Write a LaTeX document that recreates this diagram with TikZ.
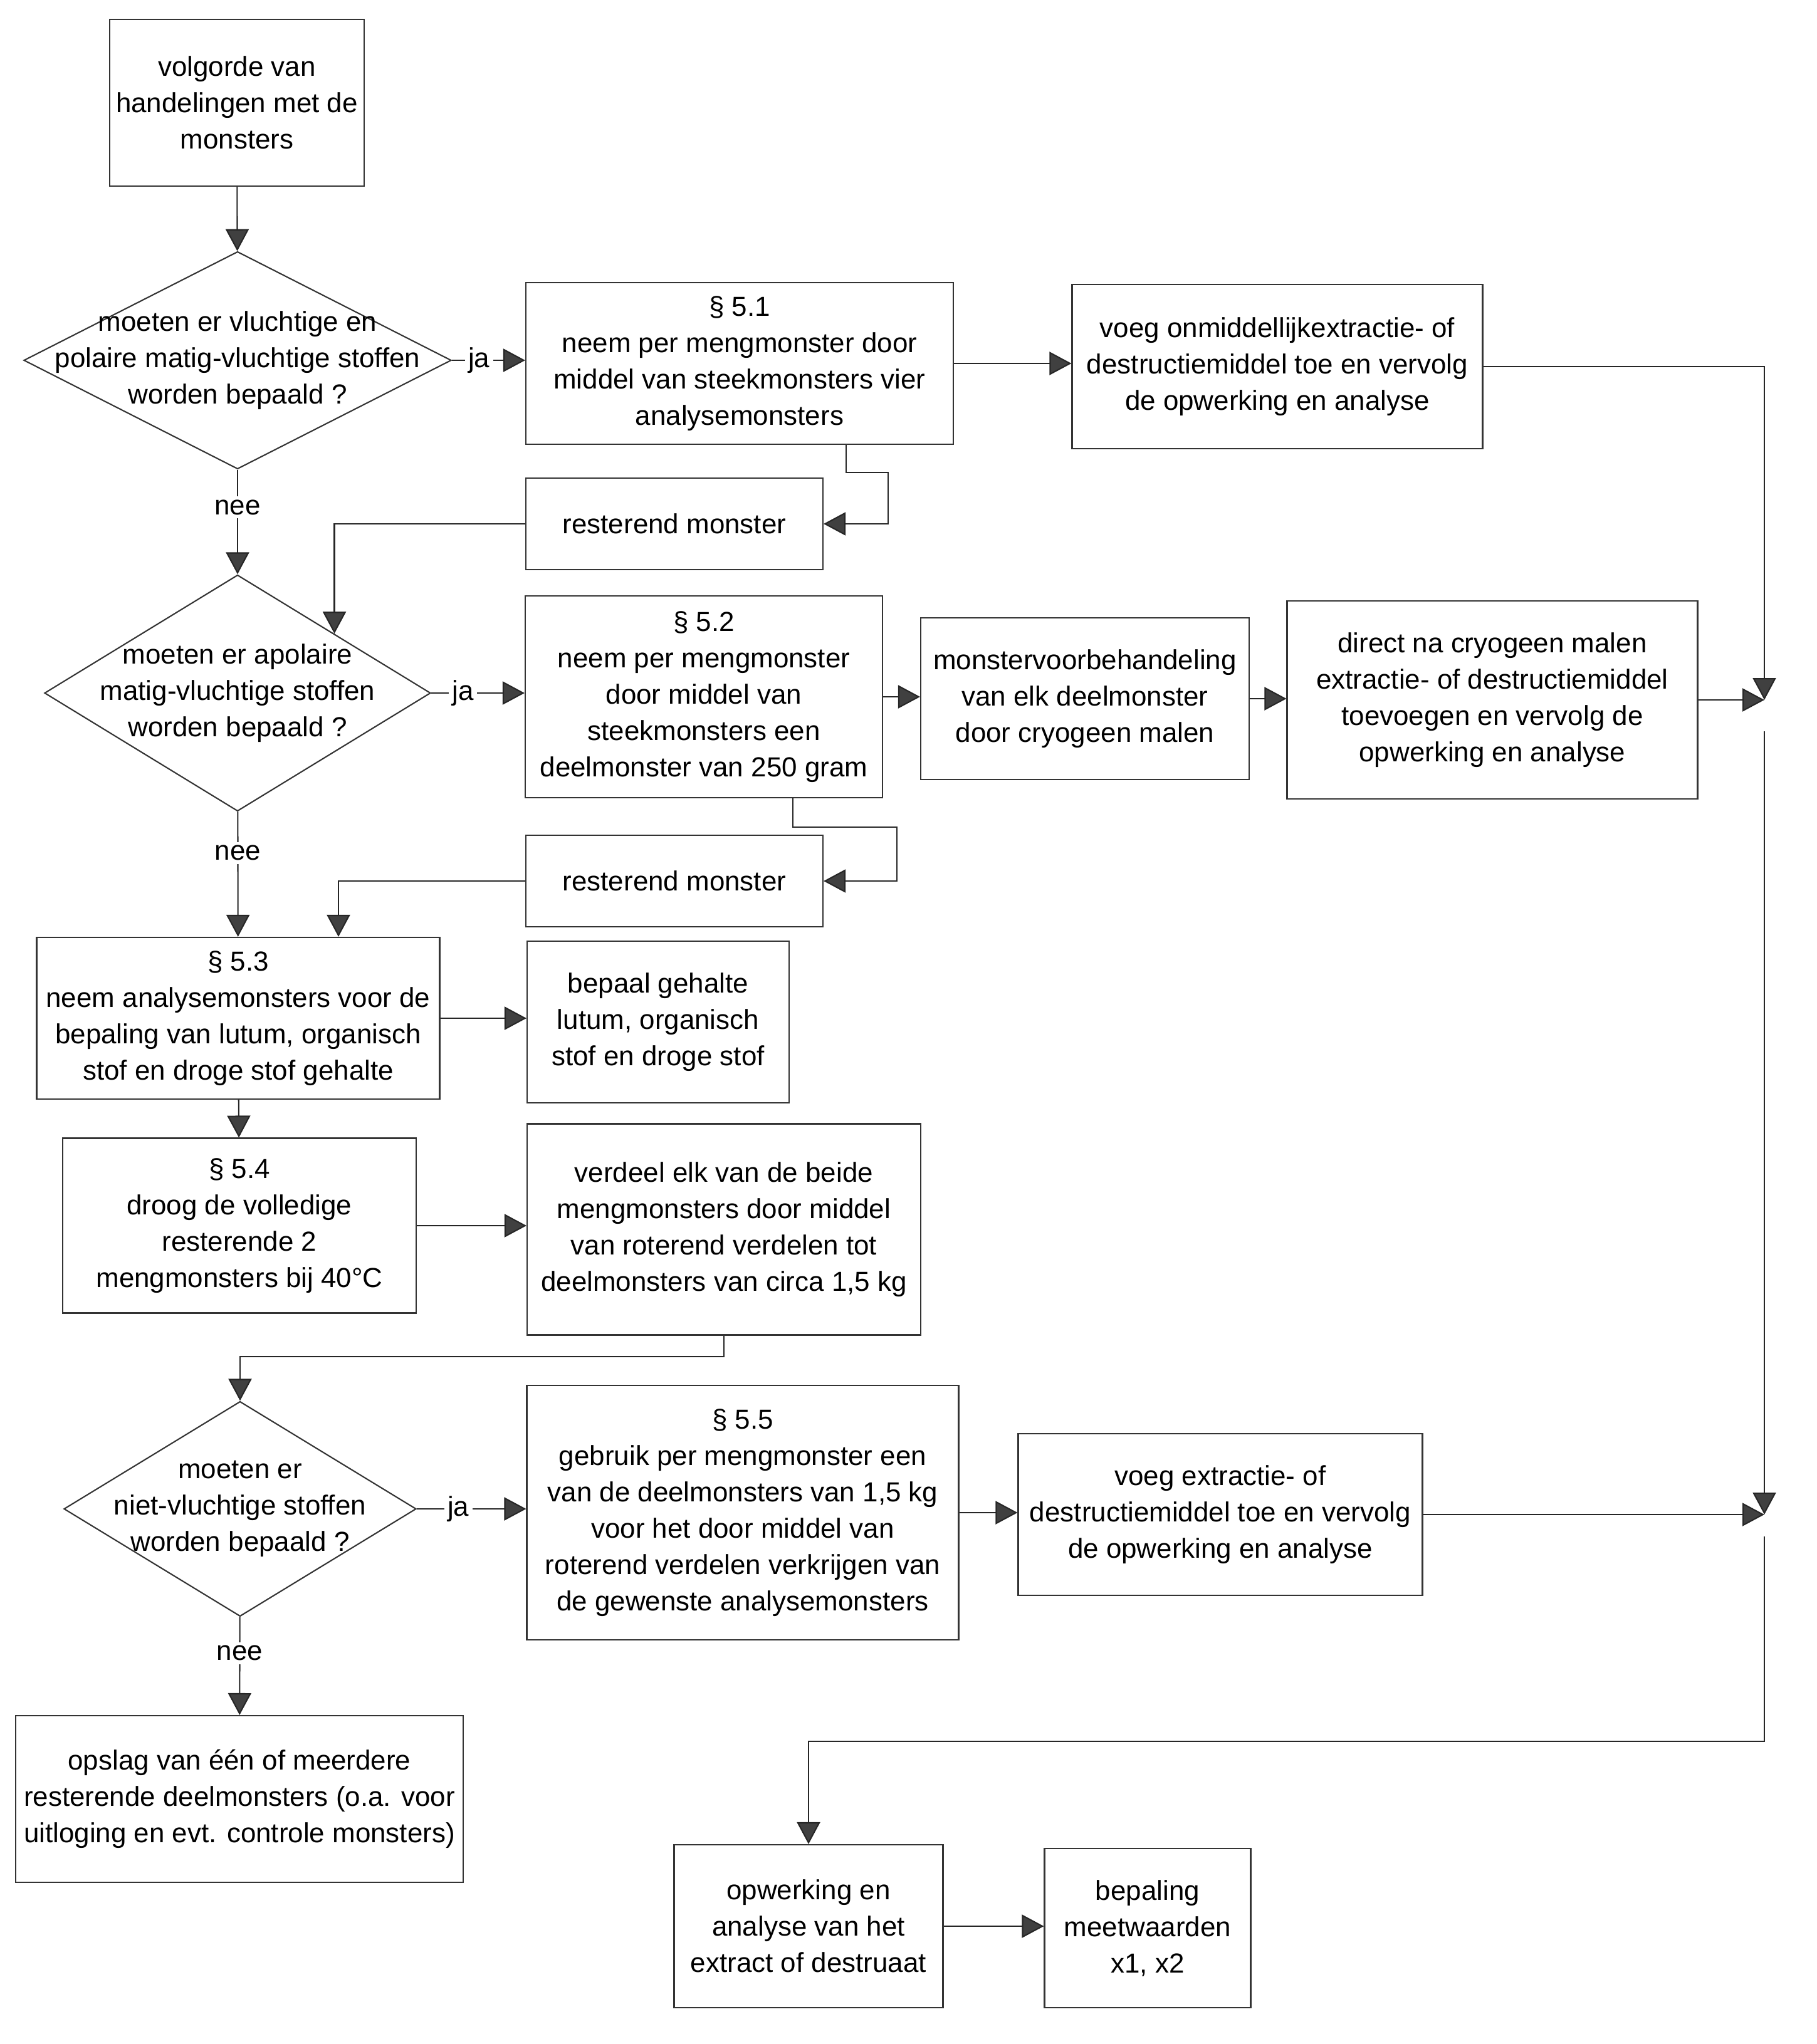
\documentclass[tikz,border=0pt]{standalone}
\usepackage{fontspec}
\setmainfont{Liberation Sans}
\usetikzlibrary{positioning,arrows.meta,shapes.geometric,calc}

\begin{document}
\begin{tikzpicture}[
    font=\fontsize{12.5}{16.5}\selectfont,
    box/.style={draw=black!80, line width=0.6pt, align=center, inner sep=0pt},
    decision/.style={draw=black!80, line width=0.6pt, diamond, inner sep=0pt},
    qtext/.style={align=center, inner sep=0pt},
    arrow/.style={-{Triangle[length=0.35cm, width=0.37cm, fill=black!75]}, draw=black!85, line width=0.6pt},
    lbl/.style={fill=white, inner sep=1.5pt}
]

\useasboundingbox (0,0) rectangle (28.98,-32.62);

% left column
\node[box, minimum width=4.06cm, minimum height=2.66cm] (start) at (3.78,-1.64) {volgorde van\\handelingen met de\\monsters};
\node[decision, minimum width=6.82cm, minimum height=3.47cm] (q1) at (3.79,-5.75) {};
\node[qtext] (q1t) at (q1) {moeten er vluchtige en\\polaire matig-vluchtige stoffen\\worden bepaald ?};
\node[decision, minimum width=6.16cm, minimum height=3.77cm] (q2) at (3.79,-11.06) {};
\node[qtext] (q2t) at (q2) {moeten er apolaire\\matig-vluchtige stoffen\\worden bepaald ?};
\node[box, minimum width=6.43cm, minimum height=2.58cm] (s53) at (3.80,-16.25) {§ 5.3\\neem analysemonsters voor de\\bepaling van lutum, organisch\\stof en droge stof gehalte};
\node[box, minimum width=5.64cm, minimum height=2.79cm] (s54) at (3.82,-19.56) {§ 5.4\\droog de volledige\\resterende 2\\mengmonsters bij 40°C};
\node[decision, minimum width=5.62cm, minimum height=3.43cm] (q3) at (3.83,-24.08) {};
\node[qtext] (q3t) at (q3) {moeten er\\niet-vluchtige stoffen\\worden bepaald ?};
\node[box, minimum width=7.14cm, minimum height=2.66cm] (opslag) at (3.82,-28.71) {opslag van één of meerdere\\resterende deelmonsters (o.a. voor\\uitloging en evt. controle monsters)};

% middle column
\node[box, minimum width=6.82cm, minimum height=2.58cm] (s51) at (11.80,-5.80) {§ 5.1\\neem per mengmonster door\\middel van steekmonsters vier\\analysemonsters};
\node[box, minimum width=4.74cm, minimum height=1.46cm] (rest1) at (10.76,-8.36) {resterend monster};
\node[box, minimum width=5.70cm, minimum height=3.22cm] (s52) at (11.23,-11.12) {§ 5.2\\neem per mengmonster\\door middel van\\steekmonsters een\\deelmonster van 250 gram};
\node[box, minimum width=4.74cm, minimum height=1.46cm] (rest2) at (10.76,-14.06) {resterend monster};
\node[box, minimum width=4.18cm, minimum height=2.58cm] (gehalte) at (10.50,-16.31) {bepaal gehalte\\lutum, organisch\\stof en droge stof};
\node[box, minimum width=6.28cm, minimum height=3.37cm] (verdeel) at (11.55,-19.62) {verdeel elk van de beide\\mengmonsters door middel\\van roterend verdelen tot\\deelmonsters van circa 1,5 kg};
\node[box, minimum width=6.89cm, minimum height=4.06cm] (s55) at (11.85,-24.14) {§ 5.5\\gebruik per mengmonster een\\van de deelmonsters van 1,5 kg\\voor het door middel van\\roterend verdelen verkrijgen van\\de gewenste analysemonsters};
\node[box, minimum width=4.29cm, minimum height=2.60cm] (opwerk) at (12.90,-30.74) {opwerking en\\analyse van het\\extract of destruaat};

% right part
\node[box, minimum width=6.55cm, minimum height=2.62cm] (voeg1) at (20.38,-5.85) {voeg onmiddellijkextractie- of\\destructiemiddel toe en vervolg\\de opwerking en analyse};
\node[box, minimum width=5.24cm, minimum height=2.58cm] (cryo) at (17.31,-11.15) {monstervoorbehandeling\\van elk deelmonster\\door cryogeen malen};
\node[box, minimum width=6.55cm, minimum height=3.16cm] (direct) at (23.81,-11.17) {direct na cryogeen malen\\extractie- of destructiemiddel\\toevoegen en vervolg de\\opwerking en analyse};
\node[box, minimum width=6.45cm, minimum height=2.58cm] (voeg2) at (19.47,-24.17) {voeg extractie- of\\destructiemiddel toe en vervolg\\de opwerking en analyse};
\node[box, minimum width=3.29cm, minimum height=2.54cm] (meet) at (18.31,-30.77) {bepaling\\meetwaarden\\x1, x2};

\coordinate (j1) at (28.15,-11.17);
\coordinate (j2) at (28.15,-24.17);
\coordinate (bend) at (28.15,-27.79);

% connectors
\draw[arrow] (start) -- (q1);
\draw[arrow] (q1) -- node[lbl, pos=0.36]{nee} (q2);
\draw[arrow] (q2) -- node[lbl, pos=0.33]{nee} (s53);
\draw[arrow] (s53) -- (s54);
\draw[arrow] (q3) -- node[lbl, pos=0.37]{nee} (opslag);

\draw[arrow] (q1.east) -- node[lbl, pos=0.37]{ja} (q1.east -| s51.west);
\draw[arrow] (q2.east) -- node[lbl, pos=0.34]{ja} (q2.east -| s52.west);
\draw[arrow] (q3.east) -- node[lbl, pos=0.38]{ja} (q3.east -| s55.west);

\draw[arrow] (s51.east) -- (s51.east -| voeg1.west);
\draw[arrow] ([xshift=1.7cm]s51.south) -- ++(0,-0.44) -- ++(0.67,0) |- (rest1.east);
\draw[arrow] (rest1.west) -| (q2.north east);

\draw[arrow] (s52.east) -- (s52.east -| cryo.west);
\draw[arrow] (cryo.east) -- (cryo.east -| direct.west);
\draw[arrow] ([xshift=1.42cm]s52.south) -- ++(0,-0.46) -- ++(1.66,0) |- (rest2.east);
\draw[arrow] (rest2.west) -| ([xshift=1.6cm]s53.north);

\draw[arrow] (s53.east) -- (s53.east -| gehalte.west);
\draw[arrow] (s54.east) -- (s54.east -| verdeel.west);
\draw[arrow] (verdeel.south) -- ++(0,-0.33) -| (q3.north);
\draw[arrow] (s55.east) -- (s55.east -| voeg2.west);

\draw[arrow] (voeg1.east) -| (j1);
\draw[arrow] (direct.east) -- (j1);
\draw[arrow, shorten <=0.5cm] (j1) -- (j2);
\draw[arrow] (voeg2.east) -- (j2);
\draw[arrow, shorten <=0.35cm] (j2) -- (bend) -| (opwerk.north);
\draw[arrow] (opwerk.east) -- (opwerk.east -| meet.west);

\end{tikzpicture}
\end{document}
